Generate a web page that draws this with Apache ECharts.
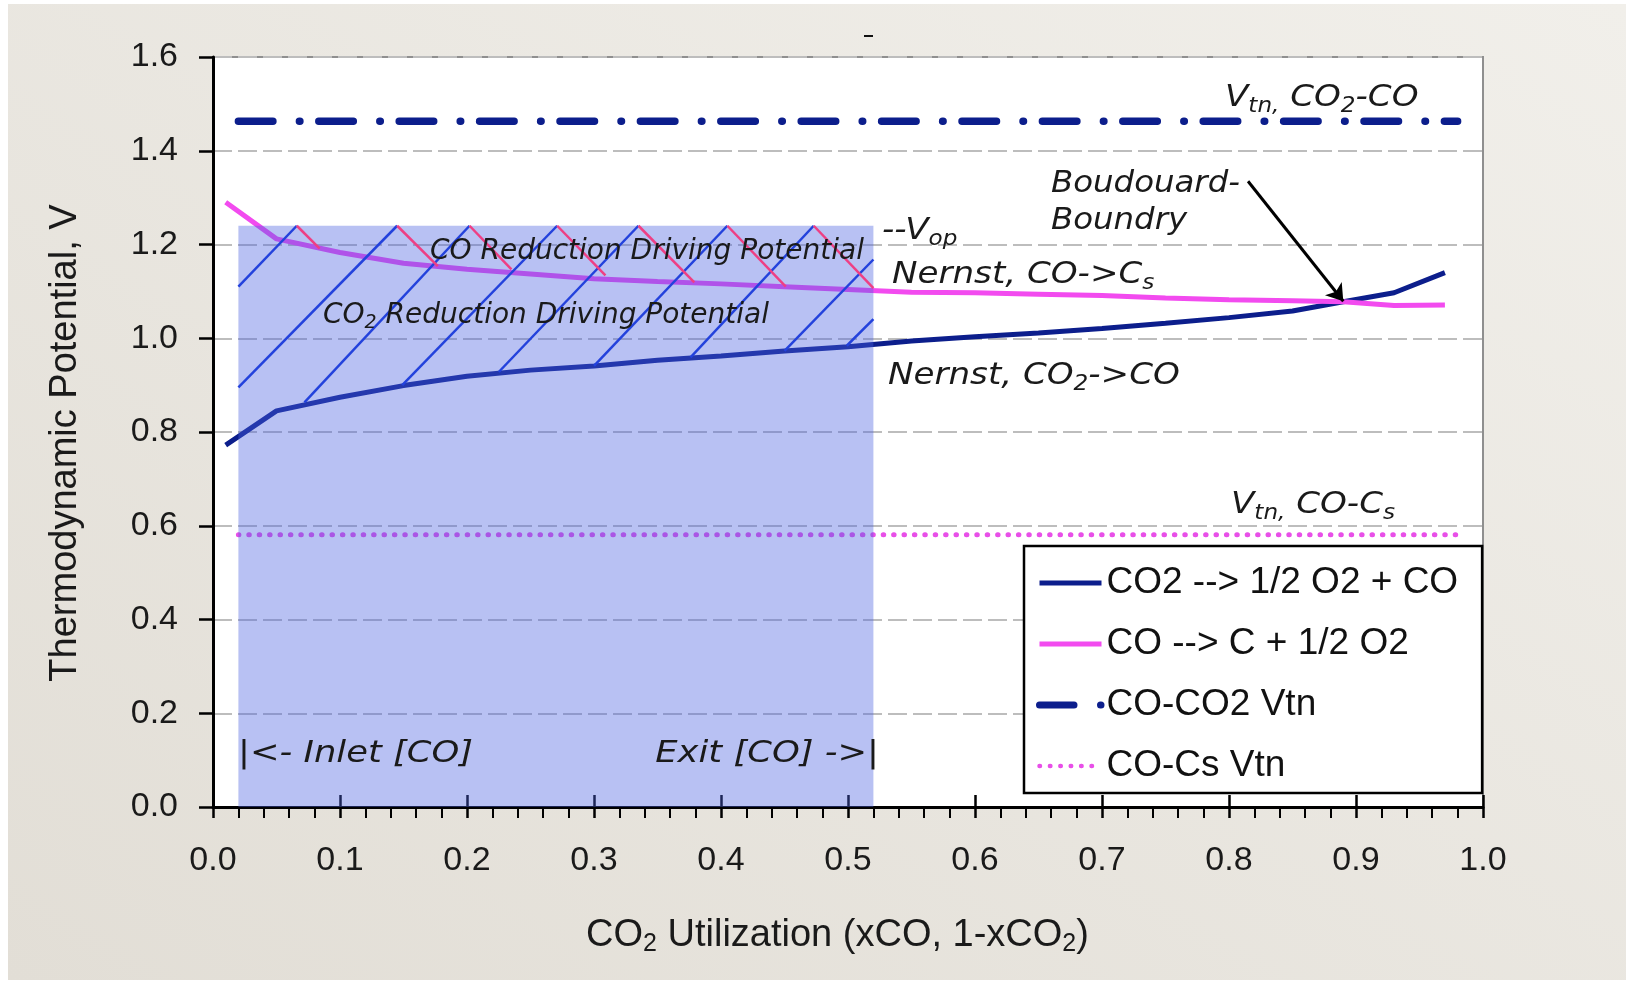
<!DOCTYPE html>
<html>
<head>
<meta charset="utf-8">
<script src="https://cdn.jsdelivr.net/npm/echarts@6/dist/echarts.min.js"></script>
<style>
    html, body { margin: 0; padding: 0; background: #fff; }
    #bg {
        position: absolute; left: 8px; top: 4px; width: 1618px; height: 976px;
        background: linear-gradient(to bottom left, #F1EFEA, #E2DED6);
    }
    #chart { position: absolute; left: 0; top: 0; width: 1626px; height: 989px; }
</style>
</head>
<body>
<div id="bg"></div>
<div id="chart"></div>
<script>
// utilization points (xCO) and the two Nernst curves
const xPts = [0.01, 0.05, 0.10, 0.15, 0.20, 0.25, 0.30, 0.35, 0.40, 0.45, 0.50,
              0.55, 0.60, 0.65, 0.70, 0.75, 0.80, 0.85, 0.89, 0.93, 0.97];
const co2Nernst = [0.772, 0.845, 0.874, 0.899, 0.919, 0.932, 0.941, 0.953, 0.962, 0.973, 0.982,
                   0.994, 1.003, 1.011, 1.021, 1.032, 1.044, 1.058, 1.078, 1.097, 1.140];
const coNernst = [1.290, 1.212, 1.183, 1.160, 1.147, 1.137, 1.127, 1.121, 1.116, 1.110, 1.104,
                  1.098, 1.097, 1.094, 1.091, 1.086, 1.082, 1.080, 1.078, 1.070, 1.071];

// thermoneutral voltages (flat lines)
const vtnRange = [0.02, 0.98];
const vtnCO2 = 1.463;
const vtnCs = 0.581;

// operating window (shaded box) and operating voltage
const opRange = [0.02, 0.52];
const vop = 1.24;

// hatch strokes [x0, y0, x1, y1]
const blueHatch = [
    [0.020, 1.110, 0.066, 1.24],
    [0.020, 0.895, 0.145, 1.24],
    [0.072, 0.863, 0.202, 1.24],
    [0.149, 0.900, 0.271, 1.24],
    [0.225, 0.928, 0.335, 1.24],
    [0.300, 0.941, 0.405, 1.24],
    [0.376, 0.959, 0.473, 1.24],
    [0.450, 0.973, 0.520, 1.168],
    [0.499, 0.984, 0.520, 1.041]
];
const pinkHatch = [
    [0.066, 1.24, 0.084, 1.191],
    [0.145, 1.24, 0.177, 1.154],
    [0.202, 1.24, 0.235, 1.147],
    [0.271, 1.24, 0.309, 1.134],
    [0.335, 1.24, 0.379, 1.119],
    [0.405, 1.24, 0.451, 1.110],
    [0.473, 1.24, 0.520, 1.107]
];

// Boudouard boundary arrow (tail, head)
const boudouardArrow = [[0.815, 1.335], [0.890, 1.079]];

const names = ['CO2 --> 1/2 O2 + CO', 'CO --> C + 1/2 O2', 'CO-CO2 Vtn', 'CO-Cs Vtn'];
const legendWidths = [5, 5, 7, 4.5];

const NAVY = '#0C1E8C';
const PINK = '#F24BEF';
const DOTS = '#E84FE8';

const chart = echarts.init(document.getElementById('chart'));

const annoFont = 'DejaVu Sans';
function rich(size) {
    return {
        n: { fontFamily: annoFont, fontStyle: 'italic', fontSize: size, fill: '#1a1a1a' },
        s: {
            fontFamily: annoFont, fontStyle: 'italic', fontSize: Math.round(size * 0.68),
            padding: [Math.round(size * 0.55), 0, 0, 0], fill: '#1a1a1a'
        }
    };
}

function note(x, y, text, opts) {
    opts = opts || {};
    const size = opts.size || 28;
    return {
        type: 'text', x: x, y: y, z: 100, silent: true,
        scaleX: opts.sx || 1,
        style: {
            text: text, rich: rich(size),
            fontFamily: annoFont, fontStyle: 'italic', fontSize: size,
            fill: '#1a1a1a', align: opts.align || 'left', verticalAlign: 'middle'
        }
    };
}

const hatchSeries = (list, color) => list.map(h => ({
    type: 'line',
    data: [[h[0], h[1]], [h[2], h[3]]],
    symbol: 'none', silent: true, z: 4,
    lineStyle: { color: color, width: 2.5 }
}));

const big = { size: 31, sx: 1.1 };

chart.setOption({
    animation: false,
    backgroundColor: 'transparent',
    grid: {
        left: 213, right: 143, top: 57, bottom: 182,
        show: true, backgroundColor: '#fff', borderColor: '#8f8f8f', borderWidth: 2
    },
    legend: {
        data: names.map((n, i) => ({ name: n, lineStyle: { width: legendWidths[i] } })),
        orient: 'vertical',
        left: 1024, top: 546,
        backgroundColor: '#fff', borderColor: '#000', borderWidth: 2.5,
        padding: [17, 24, 7, 12],
        itemWidth: 62, itemHeight: 14, itemGap: 21,
        selectedMode: false,
        itemStyle: { opacity: 0 },
        textStyle: { fontFamily: 'Liberation Sans', fontSize: 37, color: '#111', lineHeight: 40 }
    },
    xAxis: [{
        type: 'value', min: 0, max: 1, interval: 0.1, position: 'bottom',
        axisLine: { show: true, onZero: false, lineStyle: { color: '#000', width: 3 } },
        axisTick: { show: true, inside: false, length: 11, lineStyle: { color: '#000', width: 2.5 } },
        minorTick: { show: true, splitNumber: 5, length: 11, lineStyle: { color: '#000', width: 2 } },
        axisLabel: {
            margin: 37, formatter: v => v.toFixed(1),
            fontFamily: 'Liberation Sans', fontSize: 34, color: '#1a1a1a'
        },
        splitLine: { show: false },
        name: '{n|CO}{s|2}{n| Utilization (xCO, 1-xCO}{s|2}{n|)}',
        nameLocation: 'middle', nameGap: 107,
        nameTextStyle: {
            padding: [0, 21, 0, 0],
            rich: {
                n: { fontFamily: 'Liberation Sans', fontSize: 38, color: '#1a1a1a' },
                s: { fontFamily: 'Liberation Sans', fontSize: 25, padding: [18, 0, 0, 0], color: '#1a1a1a' }
            }
        }
    }, {
        type: 'value', min: 0, max: 1, interval: 0.1, position: 'bottom',
        axisLine: { show: false },
        axisTick: { show: true, inside: true, length: 12, lineStyle: { color: '#000', width: 2.5 } },
        axisLabel: { show: false },
        splitLine: { show: false }
    }],
    yAxis: {
        type: 'value', min: 0, max: 1.6, interval: 0.2,
        axisLine: { show: true, onZero: false, lineStyle: { color: '#000', width: 3 } },
        axisTick: { show: true, inside: false, length: 14, lineStyle: { color: '#000', width: 2.5 } },
        axisLabel: {
            margin: 35, formatter: v => v.toFixed(1),
            fontFamily: 'Liberation Sans', fontSize: 34, color: '#1a1a1a'
        },
        splitLine: { show: true, lineStyle: { color: '#bdbdbd', width: 2, type: [19, 6] } },
        name: 'Thermodynamic Potential, V',
        nameLocation: 'middle', nameGap: 128, nameRotate: 90,
        nameTextStyle: { fontFamily: 'Liberation Sans', fontSize: 38, color: '#1a1a1a', padding: [0, 22, 0, 0] }
    },
    series: [
        {
            name: names[0], type: 'line', z: 2,
            data: xPts.map((x, i) => [x, co2Nernst[i]]),
            symbol: 'none', lineStyle: { color: NAVY, width: 5 }, itemStyle: { color: NAVY }
        },
        {
            name: names[1], type: 'line', z: 2,
            data: xPts.map((x, i) => [x, coNernst[i]]),
            symbol: 'none', lineStyle: { color: PINK, width: 5 }, itemStyle: { color: PINK }
        },
        {
            name: names[2], type: 'line', z: 2,
            data: vtnRange.map(x => [x, vtnCO2]),
            symbol: 'none', itemStyle: { color: NAVY },
            lineStyle: { color: NAVY, width: 7.5, cap: 'round', type: [34.5, 26.5, 0.5, 18.9] }
        },
        {
            name: names[3], type: 'line', z: 2,
            data: vtnRange.map(x => [x, vtnCs]),
            symbol: 'none', itemStyle: { color: DOTS },
            lineStyle: { color: DOTS, width: 5, cap: 'round', type: [0.5, 9.9] }
        },
        {
            // shaded operating window, drawn over the curves
            type: 'line', z: 3, silent: true,
            data: opRange.map(x => [x, vop]),
            symbol: 'none', lineStyle: { width: 0 },
            areaStyle: { color: 'rgba(75,98,225,0.56)', origin: 'start' }
        },
        ...hatchSeries(blueHatch, '#2342DC'),
        ...hatchSeries(pinkHatch, '#EE3F84'),
        {
            type: 'line', z: 5, data: [], silent: true,
            markLine: {
                silent: true, animation: false,
                symbol: ['none', 'arrow'], symbolSize: 16,
                label: { show: false },
                lineStyle: { color: '#000', width: 3, type: 'solid' },
                data: [[{ coord: boudouardArrow[0] }, { coord: boudouardArrow[1] }]]
            }
        }
    ],
    graphic: [
        note(1225, 98, '{n|V}{s|tn,}{n| CO}{s|2}{n|-CO}', big),
        {
            type: 'text', x: 1051, y: 166, z: 100, silent: true, scaleX: 1.08,
            style: {
                text: 'Boudouard-\nBoundry', fontFamily: annoFont, fontStyle: 'italic',
                fontSize: 30, lineHeight: 37, fill: '#1a1a1a', verticalAlign: 'top'
            }
        },
        note(882, 231, '{n|--V}{s|op}', big),
        note(892, 275, '{n|Nernst, CO->C}{s|s}', big),
        note(888, 376, '{n|Nernst, CO}{s|2}{n|->CO}', big),
        note(430, 252, '{n|CO Reduction Driving Potential}'),
        note(323, 316, '{n|CO}{s|2}{n| Reduction Driving Potential}'),
        note(1231, 505, '{n|V}{s|tn,}{n| CO-C}{s|s}', big),
        note(238, 754, '{n||<- Inlet [CO]}', { size: 31, sx: 1.14 }),
        note(879, 754, '{n|Exit [CO] ->|}', { size: 31, sx: 1.14, align: 'right' }),
        { type: 'line', z: 100, shape: { x1: 864, y1: 36, x2: 873, y2: 36 }, style: { stroke: '#111', lineWidth: 2 } }
    ]
});
</script>
</body>
</html>
